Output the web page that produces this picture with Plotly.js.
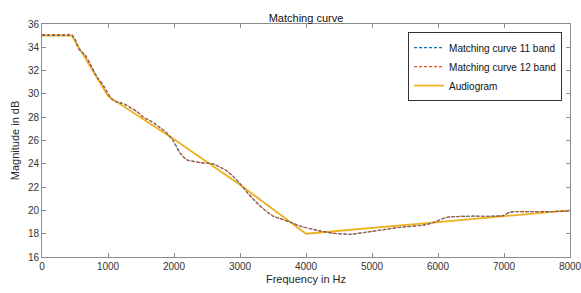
<!DOCTYPE html>
<html>
<head>
<meta charset="utf-8">
<script src="https://cdn.plot.ly/plotly-3.0.1.min.js"></script>
<style>html,body{margin:0;padding:0;background:#fff;}#chart{width:581px;height:293px;}</style>
</head>
<body>
<div id="chart"></div>
<script>
// Matching curve 12 band
const freq12 = [0, 100, 200, 300, 400, 450, 500, 550, 600, 650, 727, 800, 853, 920, 980, 1050, 1106, 1200, 1283, 1350, 1434, 1536, 1636, 1700, 1788, 1850, 1900, 1985, 2091, 2192, 2394, 2591, 2700, 2798, 2900, 3000, 3100, 3197, 3300, 3404, 3505, 3606, 3803, 3909, 4162, 4400, 4667, 5000, 5424, 5800, 5950, 6100, 6200, 6500, 6800, 6985, 7091, 7400, 7700, 8000];
const mag12  = [35.1, 35.1, 35.1, 35.1, 35.1, 35.1, 34.7, 33.9, 33.6, 33.4, 32.6, 31.8, 31.3, 30.8, 30.2, 29.6, 29.35, 29.25, 29.05, 28.8, 28.5, 28.0, 27.7, 27.5, 27.1, 26.85, 26.6, 26.0, 24.9, 24.35, 24.1, 24.0, 23.7, 23.4, 22.9, 22.3, 21.6, 21.0, 20.4, 19.9, 19.5, 19.3, 18.9, 18.65, 18.3, 18.05, 17.95, 18.2, 18.55, 18.75, 19.0, 19.35, 19.45, 19.5, 19.5, 19.55, 19.85, 19.9, 19.9, 19.95];
// Matching curve 11 band
const freq11 = [0, 100, 200, 300, 400, 450, 500, 550, 600, 650, 727, 800, 853, 920, 980, 1050, 1106, 1200, 1283, 1350, 1434, 1536, 1636, 1700, 1788, 1850, 1900, 1985, 2091, 2192, 2394, 2591, 2700, 2798, 2900, 3000, 3100, 3197, 3300, 3404, 3505, 3606, 3803, 3909, 4162, 4400, 4667, 5000, 5424, 5800, 5950, 6100, 6200, 6500, 6800, 6985, 7091, 7400, 7700, 8000];
const mag11  = [35.05, 35.05, 35.05, 35.05, 35.05, 35.05, 34.7, 33.95, 33.6, 33.35, 32.6, 31.8, 31.3, 30.8, 30.25, 29.6, 29.35, 29.2, 29.0, 28.75, 28.5, 28.0, 27.7, 27.45, 27.1, 26.85, 26.6, 26.0, 24.95, 24.35, 24.1, 24.0, 23.7, 23.4, 22.9, 22.3, 21.6, 21.0, 20.4, 19.9, 19.5, 19.3, 18.9, 18.65, 18.3, 18.05, 17.95, 18.2, 18.55, 18.75, 19.0, 19.35, 19.45, 19.5, 19.5, 19.55, 19.85, 19.9, 19.9, 19.95];
// Audiogram
const freqA = [0, 450, 1000, 2000, 3000, 4000, 6000, 8000];
const magA  = [35, 35, 29.8, 26.1, 22.2, 18, 19, 20];

const xTicks = [0, 1000, 2000, 3000, 4000, 5000, 6000, 7000, 8000];
const yTicks = [16, 18, 20, 22, 24, 26, 28, 30, 32, 34, 36];

const FONT = 'Liberation Sans, Arial, sans-serif';

const t11 = {x: freq11, y: mag11, name: 'Matching curve 11 band', mode: 'lines', legendrank: 1,
  line: {color: '#0072BD', width: 1.2, dash: '3px,2px', shape: 'spline', smoothing: 0.5}};
const t12 = {x: freq12, y: mag12, name: 'Matching curve 12 band', mode: 'lines', legendrank: 2,
  line: {color: '#D95319', width: 1.2, dash: '3px,2px', shape: 'spline', smoothing: 0.5}};
const tA = {x: freqA, y: magA, name: 'Audiogram', mode: 'lines', legendrank: 3,
  line: {color: '#EDB120', width: 1.8}};

const axisCommon = {
  showgrid: false, zeroline: false, showline: true, mirror: 'ticks',
  linecolor: '#8c8c8c', linewidth: 1, ticks: 'inside', ticklen: 4, tickcolor: '#8c8c8c',
  ticklabeloverflow: 'allow',
  tickfont: {family: FONT, size: 10, color: '#333'}
};

const layout = {
  width: 581, height: 293,
  margin: {l: 42, r: 11, t: 24, b: 36},
  paper_bgcolor: '#fff', plot_bgcolor: '#fff',
  font: {family: FONT, color: '#262626'},
  title: {text: 'Matching curve', font: {family: FONT, size: 11, color: '#111'},
    x: 0.5, xref: 'paper', xanchor: 'center', y: 1, yref: 'paper', yanchor: 'bottom', pad: {b: 2}},
  xaxis: Object.assign({}, axisCommon, {range: [0, 8000], tickvals: xTicks, ticktext: xTicks.map(String),
    title: {text: 'Frequency in Hz', font: {family: FONT, size: 11, color: '#262626'}, standoff: 4}}),
  yaxis: Object.assign({}, axisCommon, {range: [16, 36], tickvals: yTicks, ticktext: yTicks.map(String),
    title: {text: 'Magnitude in dB', font: {family: FONT, size: 11, color: '#262626'}, standoff: 6}}),
  showlegend: true,
  legend: {x: 0.985, y: 0.965, xanchor: 'right', yanchor: 'top', bgcolor: '#fff', bordercolor: '#333', borderwidth: 1,
    font: {family: FONT, size: 10, color: '#111'}, tracegroupgap: 0}
};

Plotly.newPlot('chart', [tA, t11, t12], layout, {staticPlot: true, displayModeBar: false});
</script>
</body>
</html>
